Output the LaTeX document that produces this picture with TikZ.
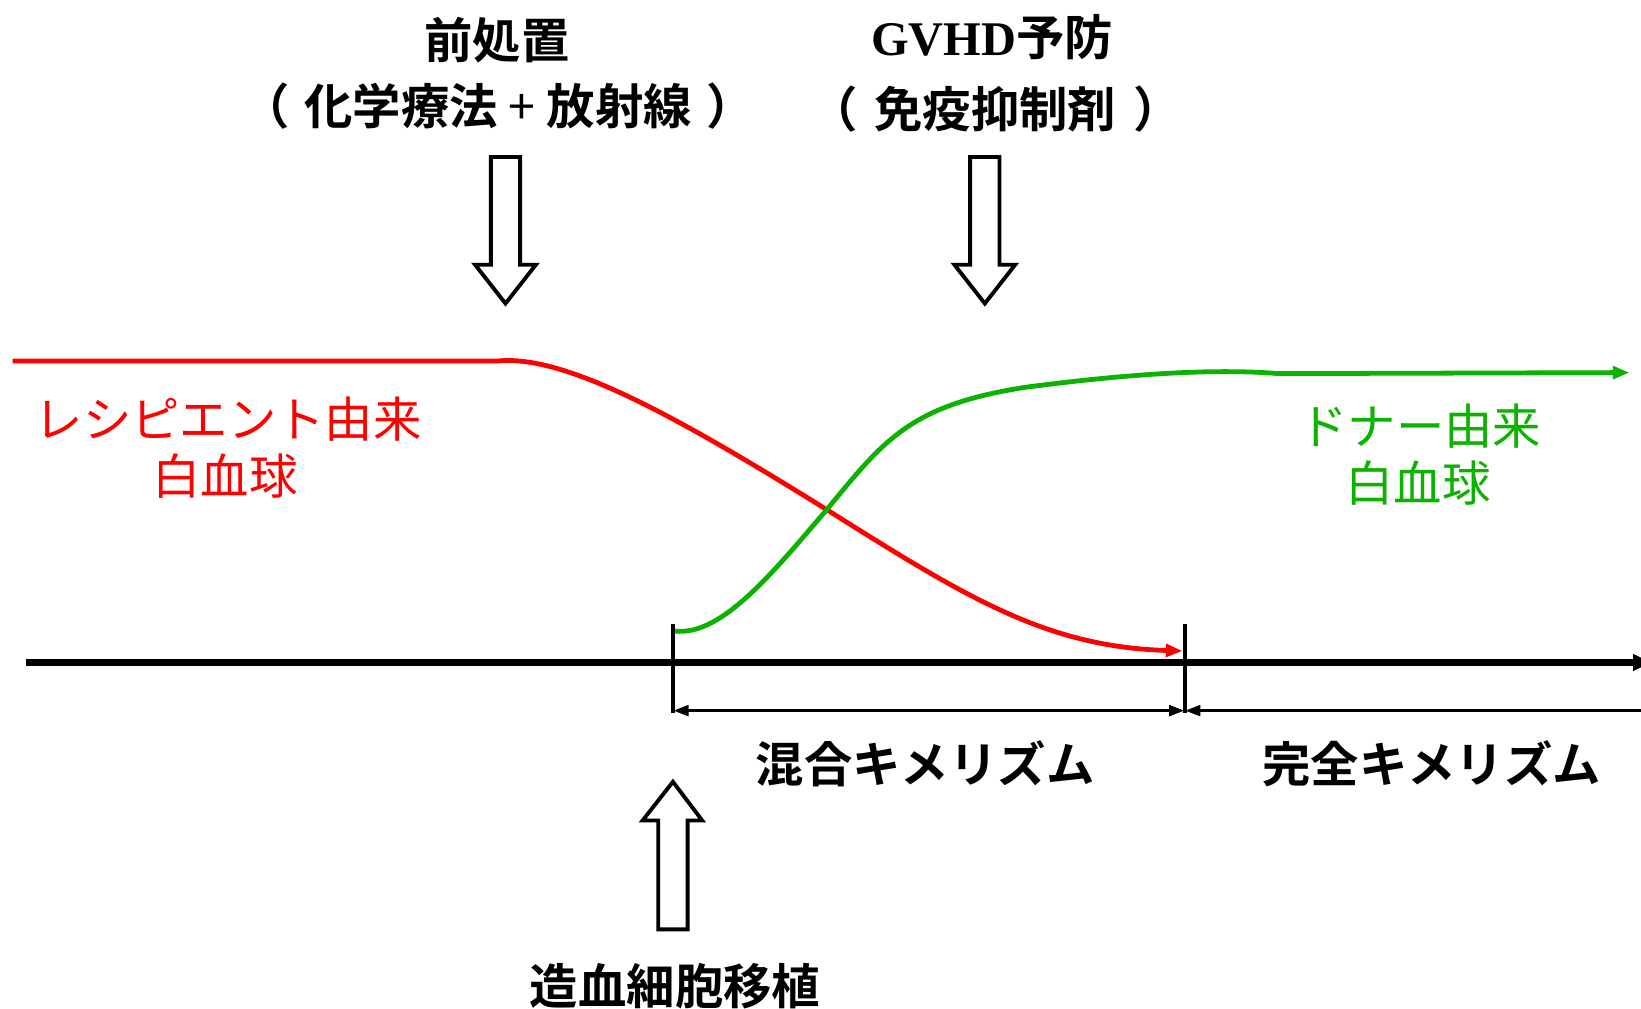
\documentclass[tikz,border=0pt]{standalone}
\usepackage{fontspec}
\setmainfont{Noto Sans CJK JP}[BoldFont={Noto Sans CJK JP Bold}]
\newfontfamily\serifb{Liberation Serif}[BoldFont={Liberation Serif Bold}]
\usetikzlibrary{arrows.meta}
\definecolor{myred}{RGB}{255,0,0}
\definecolor{mygreen}{RGB}{12,178,0}
\tikzset{btip/.tip={Triangle[length=0.3cm,width=0.2cm]}}
\begin{document}
\begin{tikzpicture}[x=0.02cm,y=-0.02cm,
  txt/.style={inner sep=0pt, font=\fontsize{26.3}{30}\selectfont},
  btxt/.style={inner sep=0pt, font=\fontsize{26.3}{30}\selectfont\bfseries},
  blockarr/.style={draw=black, fill=white, line width=2.1pt, line join=miter},
  curvered/.style={draw=myred, line width=2.6pt, -{Triangle[length=0.32cm,width=0.24cm]}},
  curvegreen/.style={draw=mygreen, line width=2.6pt, -{Triangle[length=0.32cm,width=0.24cm]}},
  axisline/.style={line width=3.3pt, -{Triangle[length=0.35cm,width=0.3cm]}},
  tickline/.style={line width=2pt},
  bracket/.style={line width=2pt}
]
\clip (0,0) rectangle (1568,964);
\fill[white] (0,0) rectangle (1568,964);

% titles
\node[btxt] (t1) at (475,38) {前処置};
\node[btxt] (t2) at (476,101) {（\hspace{0.3em}化学療法 {\mdseries +} 放射線\hspace{0.3em}）};
\node[btxt] (t3) at (948,35) {{\serifb\bfseries GVHD}予防};
\node[btxt] (t4) at (951,104) {（\hspace{0.35em}免疫抑制剤\hspace{0.35em}）};

% block arrows
\draw[blockarr] (469,150) -- (497,150) -- (497,253) -- (512,253) -- (483,290) -- (454,253) -- (469,253) -- cycle;
\draw[blockarr] (927,150) -- (955,150) -- (955,253) -- (970,253) -- (941,290) -- (912,253) -- (927,253) -- cycle;
\draw[blockarr] (629,888) -- (657,888) -- (657,784) -- (671,784) -- (643,747) -- (614,784) -- (629,784) -- cycle;

% labels
\node[txt, text=myred] (rl1) at (218,400) {レシピエント由来};
\node[txt, text=myred] (rl2) at (215,455) {白血球};
\node[txt, text=mygreen] (gl1) at (1357,407) {ドナー由来};
\node[txt, text=mygreen] (gl2) at (1355,462) {白血球};
\node[btxt] (mix) at (884,730) {混合キメリズム};
\node[btxt] (full) at (1368,730) {完全キメリズム};
\node[btxt] (hsct) at (645,942) {造血細胞移植};

% coordinates
\coordinate (ax0) at (25,633);
\coordinate (ax1) at (1578,633);
\coordinate (k1t) at (643,596);
\coordinate (k1b) at (643,681);
\coordinate (k2t) at (1132,596);
\coordinate (k2b) at (1132,681);
\coordinate (b1) at (643,679);
\coordinate (b2) at (1132,679);
\coordinate (b3) at (1575,679);
\coordinate (r0) at (12,345);
\coordinate (r1) at (475,345);
\coordinate (cross) at (790,487);
\coordinate (r2) at (1130,622);
\coordinate (g0) at (645,603);
\coordinate (g1) at (1222,357);
\coordinate (g2) at (1557,356);

% axis and ticks
\draw[axisline] (ax0) -- (ax1);
\draw[tickline] (k1t) -- (k1b);
\draw[tickline] (k2t) -- (k2b);
\draw[bracket, btip-btip] (b1) -- (b2);
\draw[bracket, btip-] (b2) -- (b3);

% curves
\draw[curvered] (r0) -- (r1) .. controls (540,338) and (650,400) .. (cross)
   .. controls (925,572) and (1000,618) .. (r2);
\draw[mygreen, line width=2.6pt] (g0) .. controls (690,608) and (740,545) .. (cross)
   .. controls (845,420) and (870,387) .. (980,370)
   .. controls (1080,357) and (1160,352) .. (g1);
\draw[curvegreen] (g1) -- (g2);
\end{tikzpicture}
\end{document}
